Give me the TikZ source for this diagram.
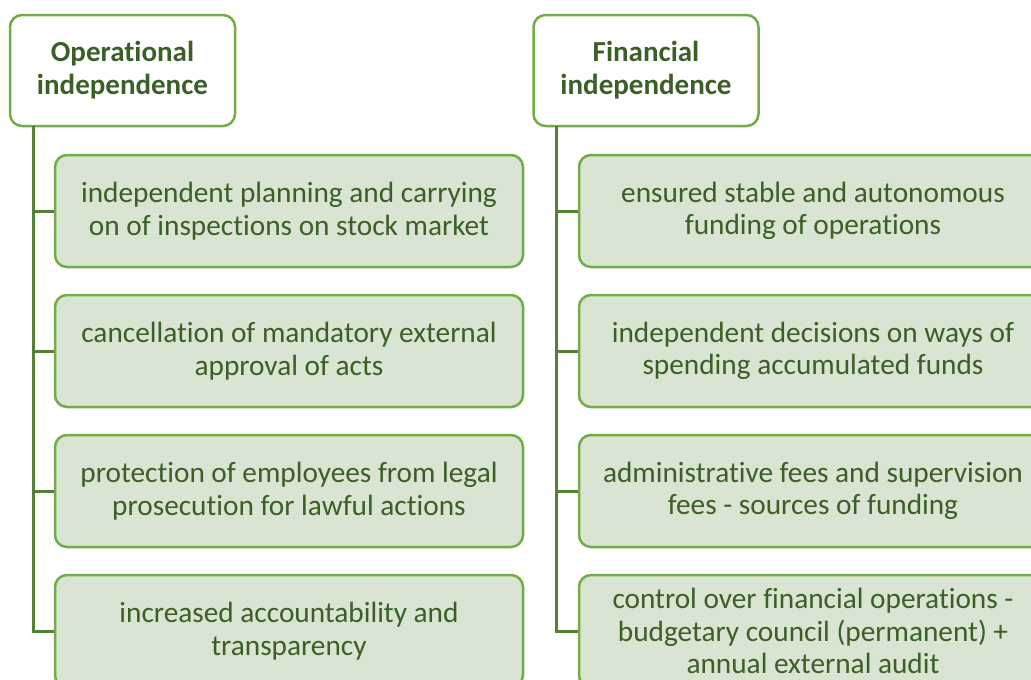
\documentclass[tikz,border=0pt]{standalone}
\usepackage{fontspec}
\setmainfont[RawFeature=-liga]{Carlito}
\definecolor{bordergreen}{HTML}{70AD47}
\definecolor{fillgreen}{HTML}{D9E4D3}
\definecolor{textgreen}{HTML}{3A5F27}
\definecolor{linegreen}{HTML}{548235}
\begin{document}
\begin{tikzpicture}[x=1pt,y=1pt,
  head/.style={draw=bordergreen, line width=2.5pt, fill=white, rounded corners=12pt,
    minimum width=225pt, minimum height=111pt, align=center, text=textgreen,
    font=\fontsize{29}{33}\selectfont\bfseries, inner sep=0pt},
  item/.style={draw=bordergreen, line width=2.5pt, fill=fillgreen, rounded corners=12pt,
    minimum width=468pt, minimum height=112pt, align=center, text=textgreen,
    font=\fontsize{29.3}{32.5}\selectfont, inner sep=0pt},
  conn/.style={draw=linegreen, line width=3pt}]
\useasboundingbox (0,0) rectangle (1031,-680);
\clip (0,0) rectangle (1031,-680);
% headers
\node[head] (h1) at (122.5,-70.5) {Operational\\independence};
\node[head] (h2) at (646,-70.5) {Financial\\independence};
% trunk coordinates
\coordinate (t1) at (33,-126);
\coordinate (t2) at (556,-126);
% left items
\node[item] (a1) at (289,-211) {independent planning and carrying\\on of inspections on stock market};
\node[item] (a2) at (289,-351) {cancellation of mandatory external\\approval of acts};
\node[item] (a3) at (289,-491) {protection of employees from legal\\prosecution for lawful actions};
\node[item] (a4) at (289,-631) {increased accountability and\\transparency};
% right items
\node[item] (b1) at (813,-211) {ensured stable and autonomous\\funding of operations};
\node[item] (b2) at (813,-351) {independent decisions on ways of\\spending accumulated funds};
\node[item] (b3) at (813,-491) {administrative fees and supervision\\fees - sources of funding};
\node[item] (b4) at (813,-631) {control over financial operations -\\budgetary council (permanent) +\\annual external audit};
% connectors
\draw[conn] (t1) |- (a4.west);
\draw[conn] (t1 |- a1.west) -- (a1.west);
\draw[conn] (t1 |- a2.west) -- (a2.west);
\draw[conn] (t1 |- a3.west) -- (a3.west);
\draw[conn] (t2) |- (b4.west);
\draw[conn] (t2 |- b1.west) -- (b1.west);
\draw[conn] (t2 |- b2.west) -- (b2.west);
\draw[conn] (t2 |- b3.west) -- (b3.west);
\end{tikzpicture}
\end{document}
